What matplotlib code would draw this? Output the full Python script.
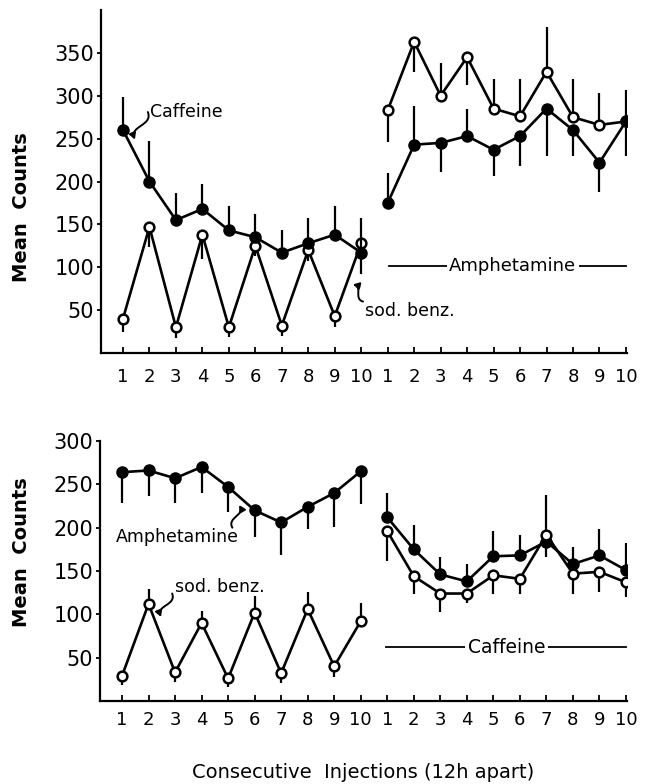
import numpy as np
import matplotlib
matplotlib.use("Agg")
import matplotlib.pyplot as plt
from matplotlib.path import Path
from matplotlib.patches import FancyArrowPatch
from matplotlib.transforms import IdentityTransform

# x positions: two blocks of 10 injections
x_left = np.arange(1, 11)
x_right = np.arange(11, 21)
tick_labels = [str(i) for i in range(1, 11)] * 2

# top panel: caffeine vs sod. benz., then both amphetamine
top_caf = [260, 200, 155, 168, 143, 135, 117, 128, 138, 117]
top_caf_bar = [298, 247, 187, 197, 171, 162, 144, 158, 172, 157]
top_sb = [40, 147, 30, 138, 30, 125, 32, 120, 43, 128]
top_sb_bar = [24, 124, 18, 110, 19, 113, 20, 107, 30, 92]
top_amph_open = [283, 363, 300, 345, 285, 276, 328, 275, 266, 270]
top_amph_open_bar = [246, 328, 338, 313, 320, 319, 380, 319, 303, 307]
top_amph_fill = [175, 243, 245, 253, 237, 253, 285, 260, 222, 270]
top_amph_fill_bar = [210, 288, 211, 285, 206, 218, 230, 230, 188, 230]

# bottom panel: amphetamine vs sod. benz., then both caffeine
bot_amph = [264, 266, 257, 270, 247, 220, 206, 224, 240, 265]
bot_amph_bar = [229, 237, 229, 240, 218, 189, 169, 199, 201, 227]
bot_sb = [29, 112, 33, 90, 26, 102, 32, 106, 40, 92]
bot_sb_bar = [18, 129, 22, 104, 16, 121, 21, 126, 28, 113]
bot_caf_fill = [212, 175, 146, 138, 167, 168, 184, 158, 168, 151]
bot_caf_fill_bar = [240, 203, 166, 158, 196, 192, 238, 178, 199, 182]
bot_caf_open = [196, 144, 124, 124, 145, 141, 192, 147, 149, 137]
bot_caf_open_bar = [161, 123, 103, 113, 124, 123, 166, 124, 126, 120]

plt.rcParams['font.family'] = ['DejaVu Sans']

fig = plt.figure(figsize=(6.49, 7.84), dpi=100)
ax1 = fig.add_axes([101 / 649, 1 - 353 / 784, 526 / 649, 343 / 784])
ax2 = fig.add_axes([100 / 649, 1 - 701 / 784, 527 / 649, 260 / 784])


def series(ax, x, y, bar, filled, z=3):
    ax.vlines(x, y, bar, color='k', lw=1.6, zorder=z - 1)
    if filled:
        ax.plot(x, y, '-o', color='k', lw=1.9, ms=8, zorder=z)
    else:
        ax.plot(x, y, '-o', color='k', lw=1.9, ms=7, mfc='white', mec='k',
                mew=1.8, zorder=z)


def squiggle(ax, tail, tip):
    p0 = ax.transData.transform(tail)
    p3 = ax.transData.transform(tip)
    d = p3 - p0
    n = np.array([-d[1], d[0]]) * 0.35
    p1 = p0 + d / 3 + n
    p2 = p0 + 2 * d / 3 - n
    path = Path([p0, p1, p2, p3],
                [Path.MOVETO, Path.CURVE4, Path.CURVE4, Path.CURVE4])
    arr = FancyArrowPatch(path=path, arrowstyle='-|>,head_length=0.35,head_width=0.2',
                          mutation_scale=10, lw=1.4, color='k',
                          transform=IdentityTransform())
    fig.add_artist(arr)


def style(ax, ymax, yticks, pad):
    ax.set_xlim(0.17, 20.04)
    ax.set_ylim(0, ymax)
    for s in ['top', 'right']:
        ax.spines[s].set_visible(False)
    for s in ['left', 'bottom']:
        ax.spines[s].set_linewidth(1.6)
    ax.set_xticks(np.arange(1, 21))
    ax.set_xticklabels(tick_labels)
    ax.set_yticks(yticks)
    ax.tick_params(axis='x', direction='in', length=4, width=1.3,
                   labelsize=13, pad=pad)
    ax.tick_params(axis='y', direction='out', length=3, width=1.3,
                   labelsize=15, pad=2)


style(ax1, 400, [50, 100, 150, 200, 250, 300, 350], 11)
style(ax2, 300, [50, 100, 150, 200, 250, 300], 7)

# top panel
series(ax1, x_left, top_sb, top_sb_bar, False)
series(ax1, x_left, top_caf, top_caf_bar, True, z=4)
series(ax1, x_right, top_amph_open, top_amph_open_bar, False)
series(ax1, x_right, top_amph_fill, top_amph_fill_bar, True, z=4)

ax1.text(2.02, 281, 'Caffeine', fontsize=12.5, va='center', ha='left')
ax1.text(10.14, 49, 'sod. benz.', fontsize=12.5, va='center', ha='left')
ax1.plot([11.05, 20.0], [101, 101], color='k', lw=1.3)
ax1.text(15.73, 101, 'Amphetamine', fontsize=13, va='center', ha='center',
         bbox=dict(facecolor='white', edgecolor='none', pad=2))

# bottom panel
series(ax2, x_left, bot_amph, bot_amph_bar, True)
series(ax2, x_left, bot_sb, bot_sb_bar, False)
series(ax2, x_right, bot_caf_fill, bot_caf_fill_bar, True)
series(ax2, x_right, bot_caf_open, bot_caf_open_bar, False, z=4)

ax2.text(0.77, 189, 'Amphetamine', fontsize=12.5, va='center', ha='left')
ax2.text(3.0, 131, 'sod. benz.', fontsize=12.5, va='center', ha='left')
ax2.plot([10.97, 20.0], [62, 62], color='k', lw=1.3)
ax2.text(15.5, 62, 'Caffeine', fontsize=13.5, va='center', ha='center',
         bbox=dict(facecolor='white', edgecolor='none', pad=2))

squiggle(ax1, (1.94, 281), (1.45, 249))
squiggle(ax1, (10.07, 60), (9.69, 80))
squiggle(ax2, (5.16, 200), (5.42, 226))
squiggle(ax2, (2.89, 124), (2.47, 97))

fig.text(22 / 649, 1 - 207 / 784, 'Mean  Counts', rotation=90, fontsize=14,
         fontweight='bold', ha='center', va='center')
fig.text(22 / 649, 1 - 552 / 784, 'Mean  Counts', rotation=90, fontsize=14,
         fontweight='bold', ha='center', va='center')
fig.text(363 / 649, 1 - 772 / 784, 'Consecutive  Injections (12h apart)',
         fontsize=14, ha='center', va='center')

fig.savefig('out.png', dpi=100)
